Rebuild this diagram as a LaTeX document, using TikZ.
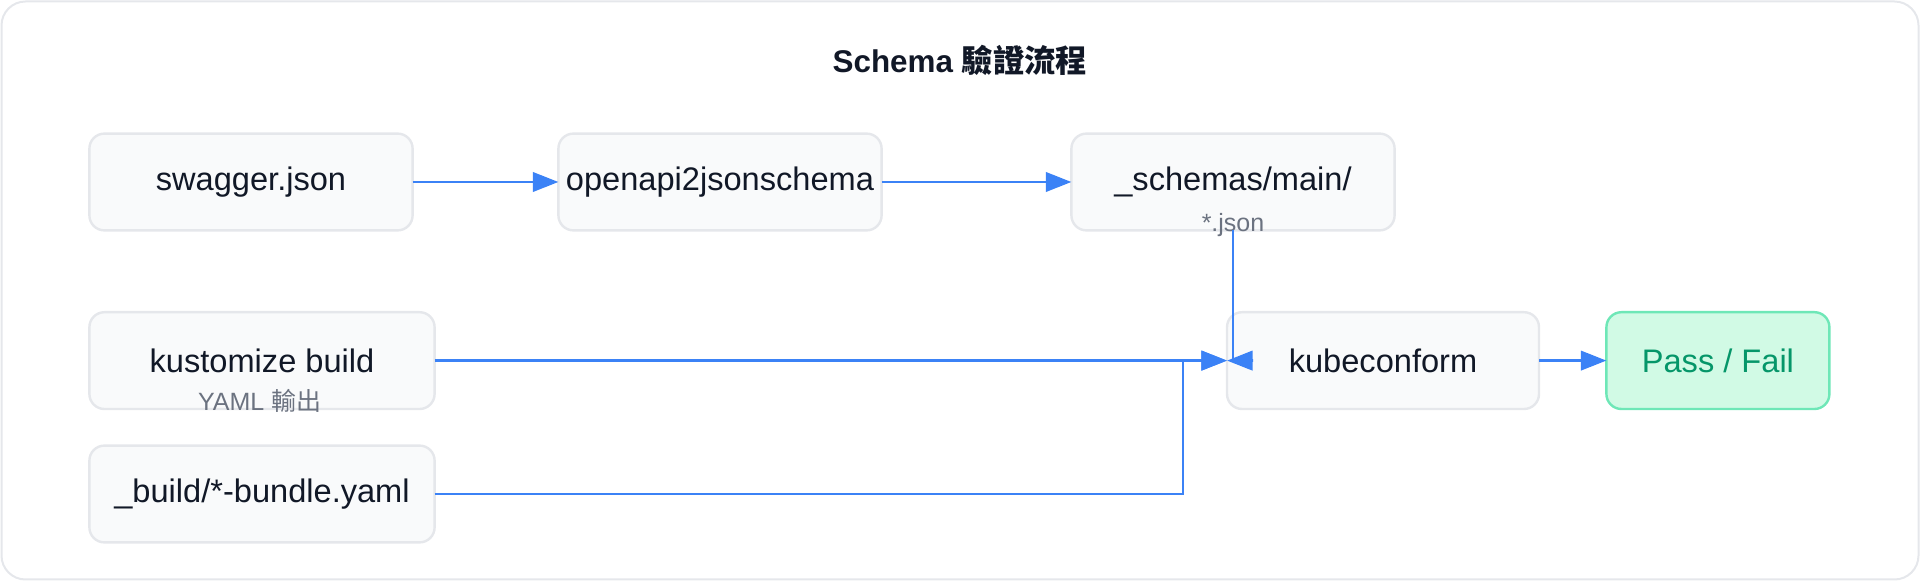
\documentclass[tikz,border=0pt]{standalone}
\usepackage{fontspec}
\setmainfont{Liberation Sans}
\newfontfamily\cjk{Noto Sans CJK TC}
\usetikzlibrary{arrows.meta,positioning}

\definecolor{boxfill}{HTML}{F9FAFB}
\definecolor{boxline}{HTML}{E5E7EB}
\definecolor{ink}{HTML}{111827}
\definecolor{notegray}{HTML}{6B7280}
\definecolor{flowblue}{HTML}{3B82F6}
\definecolor{passfill}{HTML}{D1FAE5}
\definecolor{passline}{HTML}{6EE7B7}
\definecolor{passtext}{HTML}{059669}

\begin{document}
\begin{tikzpicture}[x=0.5pt, y=-0.5pt,
        box/.style={rectangle, rounded corners=7.5pt, draw=boxline, line width=1.2pt, fill=boxfill, text=ink, minimum height=48.4pt, inner sep=0pt, outer sep=0pt, font=\fontsize{16.3}{19}\selectfont},
        done/.style={box, draw=passline, fill=passfill, text=passtext},
        note/.style={text=notegray, inner sep=0pt, font=\fontsize{12.5}{15}\selectfont},
        arrow/.style={-{Triangle[length=12.8pt, width=9.7pt]}, line width=1.4pt, draw=flowblue}]

        \useasboundingbox (0,0) rectangle (1920,581);
        \draw[boxline, line width=1pt, rounded corners=12pt] (1.5,1.5) rectangle (1918.5,579.5);

        \node[text=ink, font=\fontsize{15.7}{19}\selectfont\bfseries] (title) at (960,60) {Schema {\cjk 驗證流程}};

        % top row: schema generation
        \node[box, minimum width=161.6pt] (swagger) at (251,182) {swagger.json};
        \node[box, minimum width=161.6pt, right=72.9pt of swagger] (openapi) {openapi2jsonschema};
        \node[box, minimum width=161.6pt, right=94.9pt of openapi] (schemas) {\_schemas/main/};
        \node[note] (schemasnote) at ([yshift=-21.5pt]schemas.center) {*.json};

        % manifests and check
        \node[box, minimum width=172.6pt] (kustomize) at (262,360.6) {kustomize build};
        \node[note] (kustomizenote) at ([xshift=-1.2pt, yshift=-20pt]kustomize.center) {YAML {\cjk 輸出}};
        \node[box, minimum width=172.6pt, below=18.3pt of kustomize] (build) {\_build/*-bundle.yaml};
        \node[box, minimum width=156pt] (kube) at (1383,360.6) {kubeconform};
        \node[done, minimum width=111.5pt, right=33.7pt of kube] (pass) {Pass / Fail};

        \draw[arrow] (swagger) -- (openapi);
        \draw[arrow] (openapi) -- (schemas);
        \draw[arrow] (schemas.south) -- (schemas.south |- kube.west) -- ([xshift=13pt]kube.west) -- (kube.west);
        \draw[arrow] (kustomize) -- (kube);
        \draw[arrow] (build.east) -| ([xshift=-22pt]kube.west) -- (kube.west);
        \draw[arrow] (kube) -- (pass);
\end{tikzpicture}
\end{document}
